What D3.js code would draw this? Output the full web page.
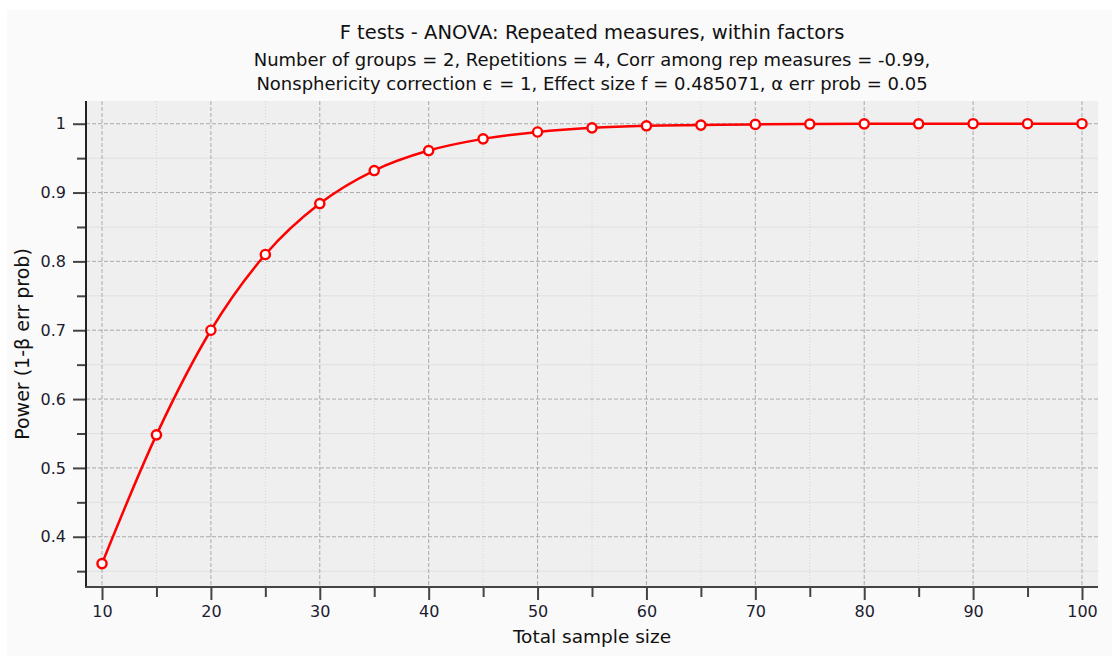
<!DOCTYPE html>
<html><head><meta charset="utf-8">
<script src="https://cdn.jsdelivr.net/npm/d3@7"></script>
<style>body{margin:0;background:#fff}svg{display:block}text{font-family:"DejaVu Sans",sans-serif}</style>
</head><body>
<svg id="c" width="1112" height="656"></svg>
<script>
const sampleSizes=[10,15,20,25,30,35,40,45,50,55,60,65,70,75,80,85,90,95,100];
const power=[0.361,0.548,0.700,0.810,0.884,0.932,0.961,0.978,0.988,0.994,0.997,0.998,0.999,0.9995,0.9998,0.9999,1.0,1.0,1.0];
const xMajorTicks=[10,20,30,40,50,60,70,80,90,100];
const xMinorTicks=[15,25,35,45,55,65,75,85,95];
const yMajorTicks=[0.4,0.5,0.6,0.7,0.8,0.9,1];
const yMinorTicks=[0.35,0.45,0.55,0.65,0.75,0.85,0.95];
const titleLines=["F tests - ANOVA: Repeated measures, within factors",
"Number of groups = 2, Repetitions = 4, Corr among rep measures = -0.99,",
"Nonsphericity correction ϵ = 1, Effect size f = 0.485071, α err prob = 0.05"];
const xLabel="Total sample size";
const yLabel="Power (1-β err prob)";

const svg=d3.select("#c");
const L=86,R=1098,T=101,B=587;
const x=d3.scaleLinear().domain([8.53,101.47]).range([L,R]);
const y=d3.scaleLinear().domain([0.327,1.033]).range([B,T]);

svg.append("rect").attr("x",7).attr("y",10).attr("width",1105).attr("height",646).attr("fill","#fafafa");
svg.append("rect").attr("x",L).attr("y",T).attr("width",R-L).attr("height",B-T).attr("fill","#efefef");

const g=svg.append("g");
g.selectAll(".xmin").data(xMinorTicks).join("line").attr("x1",d=>x(d)).attr("x2",d=>x(d)).attr("y1",T).attr("y2",B)
 .attr("stroke","#d2d2d2").attr("stroke-width",1).attr("stroke-dasharray","1,2");
g.selectAll(".ymin").data(yMinorTicks).join("line").attr("y1",d=>y(d)).attr("y2",d=>y(d)).attr("x1",L).attr("x2",R)
 .attr("stroke","#e0e0e0").attr("stroke-width",1);
g.selectAll(".xmaj").data(xMajorTicks).join("line").attr("x1",d=>x(d)).attr("x2",d=>x(d)).attr("y1",T).attr("y2",B)
 .attr("stroke","#aaaaaa").attr("stroke-width",1).attr("stroke-dasharray","4,2");
g.selectAll(".ymaj").data(yMajorTicks).join("line").attr("y1",d=>y(d)).attr("y2",d=>y(d)).attr("x1",L).attr("x2",R)
 .attr("stroke","#aaaaaa").attr("stroke-width",1).attr("stroke-dasharray","4,2");

const xAxis=d3.axisBottom(x).tickValues(xMajorTicks).tickSize(13).tickPadding(6).tickFormat(d3.format("d"));
const xAxisMinor=d3.axisBottom(x).tickValues(xMinorTicks).tickSize(10).tickFormat("");
const yAxis=d3.axisLeft(y).tickValues(yMajorTicks).tickSize(13).tickPadding(7).tickFormat(d=>d===1?"1":d3.format(".1f")(d));
const yAxisMinor=d3.axisLeft(y).tickValues(yMinorTicks).tickSize(9).tickFormat("");
function style(sel){sel.attr("font-size",null).attr("font-family",null);sel.select(".domain").remove();
 sel.selectAll("line").attr("stroke","#444").attr("stroke-width",2);
 sel.selectAll("text").attr("fill","#1c1c30").style("font-size","16px").style("font-family","'DejaVu Sans',sans-serif");}
svg.append("g").attr("transform",`translate(0,${B})`).call(xAxisMinor).call(style);
svg.append("g").attr("transform",`translate(0,${B})`).call(xAxis).call(style);
svg.append("g").attr("transform",`translate(${L},0)`).call(yAxisMinor).call(style);
svg.append("g").attr("transform",`translate(${L},0)`).call(yAxis).call(style);
svg.append("line").attr("x1",L).attr("x2",L).attr("y1",T).attr("y2",B+1).attr("stroke","#222").attr("stroke-width",2);
svg.append("line").attr("x1",L-1).attr("x2",R).attr("y1",B).attr("y2",B).attr("stroke","#444").attr("stroke-width",2);

const line=d3.line().x((d,i)=>x(sampleSizes[i])).y(d=>y(d)).curve(d3.curveMonotoneX);
svg.append("path").datum(power).attr("d",line).attr("fill","none").attr("stroke","#ff0000").attr("stroke-width",2.5);
svg.selectAll(".pt").data(power).join("circle").attr("cx",(d,i)=>x(sampleSizes[i])).attr("cy",d=>y(d)).attr("r",4.6)
 .attr("fill","#fff").attr("stroke","#ff0000").attr("stroke-width",2.4);

const cx=(L+R)/2;
svg.append("text").attr("x",cx).attr("y",39).attr("text-anchor","middle").style("font-size","19.5px").attr("fill","#111").text(titleLines[0]);
svg.append("text").attr("x",cx).attr("y",66).attr("text-anchor","middle").style("font-size","18px").attr("fill","#111").text(titleLines[1]);
svg.append("text").attr("x",cx).attr("y",90).attr("text-anchor","middle").style("font-size","18px").attr("fill","#111").text(titleLines[2]);
svg.append("text").attr("x",cx).attr("y",643).attr("text-anchor","middle").style("font-size","18.5px").attr("fill","#111").text(xLabel);
svg.append("text").attr("transform",`translate(29,${(T+B)/2}) rotate(-90)`).attr("text-anchor","middle").style("font-size","19px").attr("fill","#111").text(yLabel);
</script>
</body></html>
